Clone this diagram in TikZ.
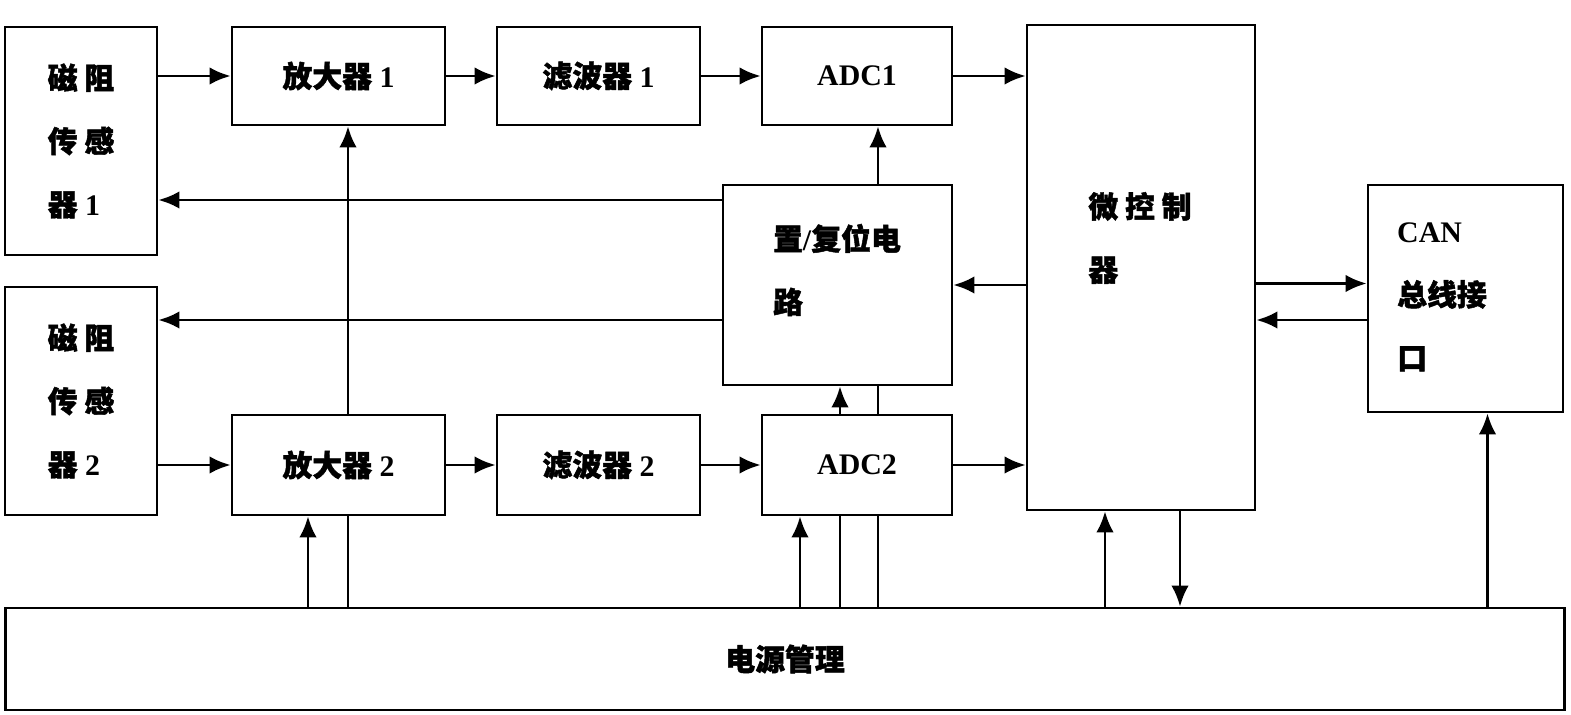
\documentclass[tikz,border=0pt]{standalone}
\usepackage{fontspec}
\setmainfont{Liberation Serif}
\newfontfamily\cjk{Noto Sans CJK SC}[FakeBold=1.5]
\usetikzlibrary{arrows.meta}
\begin{document}
\begin{tikzpicture}[x=0.02cm,y=-0.02cm, line width=1.6pt]
\tikzset{ >={Latex[length=12pt,width=10pt]},
  box/.style={draw, line width=1.6pt, rectangle, inner sep=0pt, font=\fontsize{17}{36}\selectfont\bfseries, align=left},
  txt/.style={inner sep=0pt, font=\fontsize{17}{36}\selectfont\bfseries, align=left},
}
\useasboundingbox (0,0) rectangle (1571,715);

% blocks
\node [box, minimum width=3.04cm, minimum height=4.56cm] (S1) at (81,141) {{\cjk 磁\ 阻}\\{\cjk 传\ 感}\\{\cjk 器}\ 1};
\node [box, minimum width=3.04cm, minimum height=4.56cm] (S2) at (81,401) {{\cjk 磁\ 阻}\\{\cjk 传\ 感}\\{\cjk 器}\ 2};
\node [box, minimum width=4.26cm, minimum height=1.96cm] (A1) at (338.5,76) {{\cjk 放大器}\ 1};
\node [box, minimum width=4.06cm, minimum height=1.96cm] (F1) at (598.5,76) {{\cjk 滤波器}\ 1};
\node [box, minimum width=3.80cm, minimum height=1.96cm] (D1) at (857,76) {ADC1};
\node [box, minimum width=4.58cm, minimum height=4.00cm] (SR) at (837.5,285) {};
\node [box, minimum width=4.26cm, minimum height=2.00cm] (A2) at (338.5,465) {{\cjk 放大器}\ 2};
\node [box, minimum width=4.06cm, minimum height=2.00cm] (F2) at (598.5,465) {{\cjk 滤波器}\ 2};
\node [box, minimum width=3.80cm, minimum height=2.00cm] (D2) at (857,465) {ADC2};
\node [box, minimum width=4.56cm, minimum height=9.70cm] (MC) at (1141,267.5) {};
\node [box, minimum width=3.90cm, minimum height=4.54cm] (CN) at (1465.5,298.5) {};
\node [box, minimum width=31.2cm, minimum height=2.04cm] (PW) at (785,659) {{\cjk 电源管理}};

\node [txt] (SRt) at (837,270) {{\cjk 置}/{\cjk 复位电}\\{\cjk 路}};
\node [txt] (MCt) at (1140,238) {{\cjk 微\ 控\ 制}\\{\cjk 器}};
\node [txt] (CNt) at (1442,297) {CAN\\{\cjk 总线接}\\{\cjk 口}};

\coordinate (x308) at (308,0);
\coordinate (x348) at (348,0);
\coordinate (x800) at (800,0);
\coordinate (x840) at (840,0);
\coordinate (x878) at (878,0);
\coordinate (x1105) at (1105,0);
\coordinate (x1180) at (1180,0);
\coordinate (y200) at (0,200);
\coordinate (y320) at (0,320);
\coordinate (y285) at (0,285);

% signal chain
\draw [->] (S1.east |- A1.west) -- (A1.west);
\draw [->] (A1) -- (F1);
\draw [->] (F1) -- (D1);
\draw [->] (D1.east) -- (D1.east -| MC.west);
\draw [->] (S2.east |- A2.west) -- (A2.west);
\draw [->] (A2) -- (F2);
\draw [->] (F2) -- (D2);
\draw [->] (D2.east) -- (D2.east -| MC.west);

% set/reset
\draw [->] (SR.west |- y200) -- (S1.east |- y200);
\draw [->] (SR.west |- y320) -- (S2.east |- y320);
\draw [->] (MC.west |- y285) -- (SR.east |- y285);
\draw [->] (SR.north -| x878) -- (D1.south -| x878);
\draw [->] (D2.north -| x840) -- (SR.south -| x840);
\draw (D2.north -| x878) -- (SR.south -| x878);

% CAN
\draw [->] (MC.east |- CN.west) ++(0,-15) coordinate (m1) -- (CN.west |- m1);
\draw [->] (CN.west |- y320) -- (MC.east |- y320);

% power
\draw [->] (PW.north -| x308) -- (A2.south -| x308);
\draw (PW.north -| x348) -- (A2.south -| x348);
\draw [->] (A2.north -| x348) -- (A1.south -| x348);
\draw [->] (PW.north -| x800) -- (D2.south -| x800);
\draw (PW.north -| x840) -- (D2.south -| x840);
\draw (PW.north -| x878) -- (D2.south -| x878);
\draw [->] (PW.north -| x1105) -- (MC.south -| x1105);
\draw [->] (MC.south -| x1180) -- (PW.north -| x1180);
\draw [->] (PW.north -| CN.south) ++(22,0) coordinate (p1) -- (CN.south -| p1);
\end{tikzpicture}
\end{document}
